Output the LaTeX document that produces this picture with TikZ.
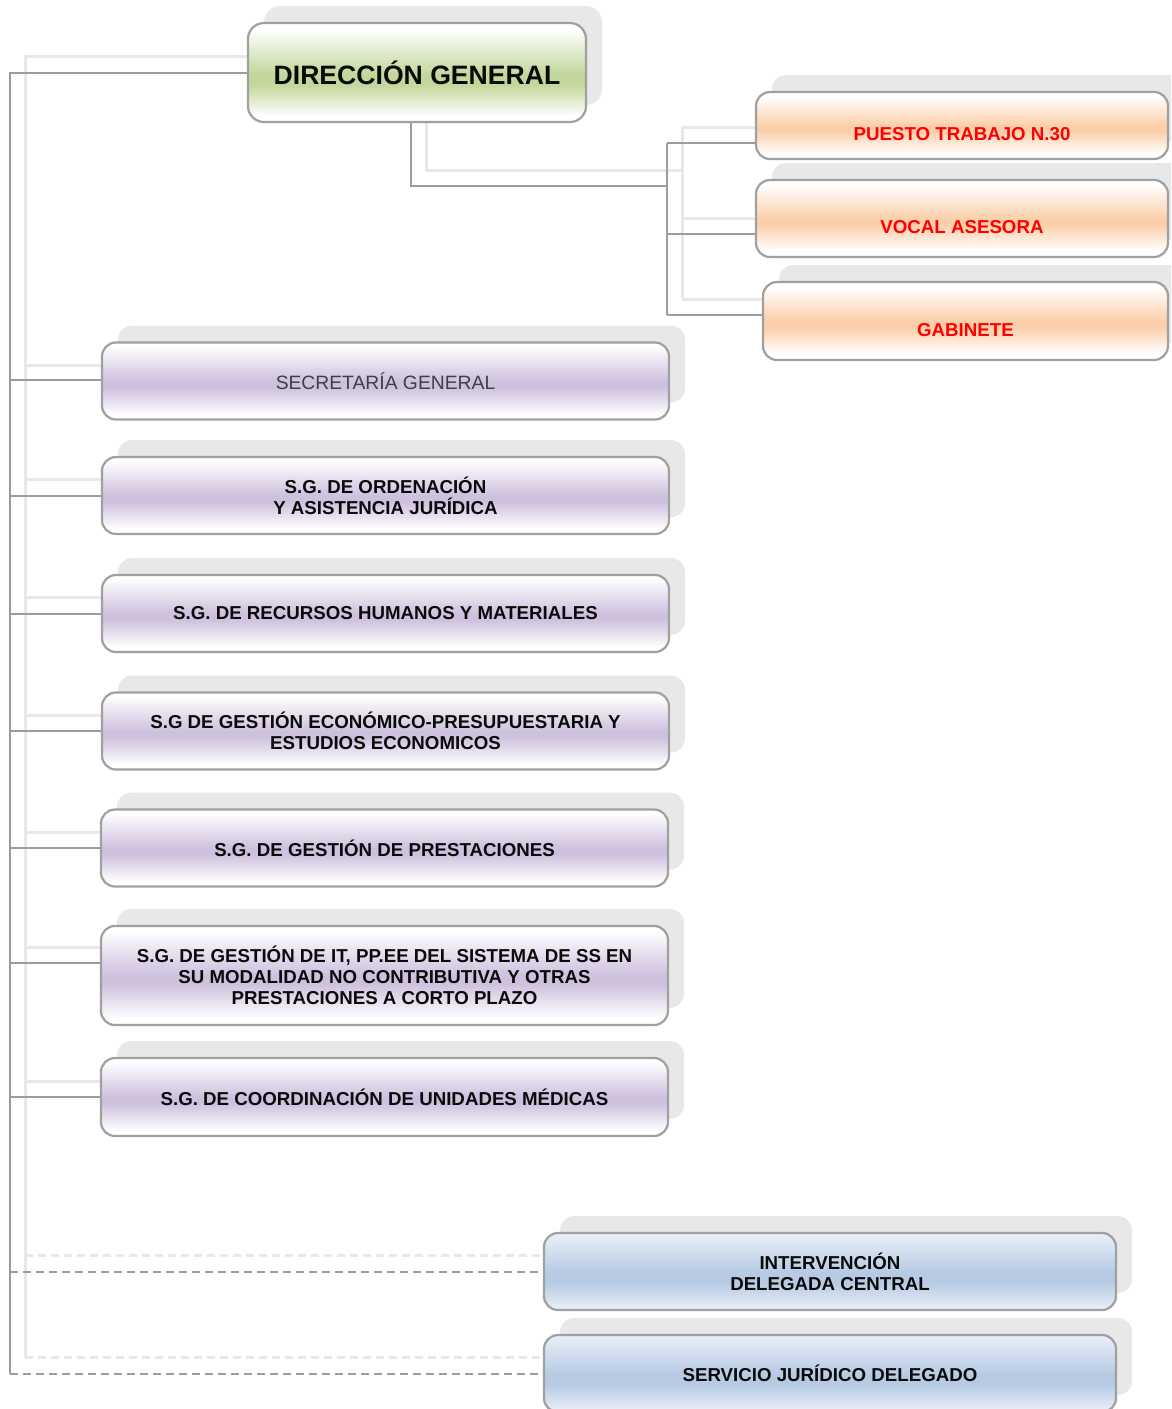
\documentclass[tikz,border=0pt]{standalone}
\usepackage{fontspec}
\setmainfont{Liberation Sans}
\usetikzlibrary{shadows,calc}
\definecolor{linec}{HTML}{9C9C9C}
\definecolor{lightc}{HTML}{E8E8E8}
\definecolor{shadc}{HTML}{E8E8E8}
\definecolor{bordc}{HTML}{A0A0A0}
\definecolor{greenc}{HTML}{C2D79B}
\definecolor{orangec}{HTML}{FBCFAA}
\definecolor{purpc}{HTML}{CEC1DE}
\definecolor{bluec}{HTML}{B6CAE3}
\definecolor{bluet}{HTML}{E6EDF7}
\definecolor{txtc}{HTML}{0A0A0A}
\definecolor{sgtxt}{HTML}{404040}
\pgfdeclareverticalshading{grsh}{100bp}{color(0bp)=(white); color(28bp)=(white); color(44bp)=(greenc); color(49bp)=(greenc); color(72bp)=(white); color(100bp)=(white)}
\pgfdeclareverticalshading{orsh}{100bp}{color(0bp)=(white); color(29bp)=(white); color(46bp)=(orangec); color(50bp)=(orangec); color(72bp)=(white); color(100bp)=(white)}
\pgfdeclareverticalshading{pusch}{100bp}{color(0bp)=(white); color(28bp)=(white); color(46bp)=(purpc); color(50bp)=(purpc); color(73bp)=(white); color(100bp)=(white)}
\pgfdeclareverticalshading{blsh}{100bp}{color(0bp)=(bluet); color(27bp)=(bluet); color(43bp)=(bluec); color(49bp)=(bluec); color(73bp)=(bluet); color(100bp)=(bluet)}
\pgfdeclarelayer{bg}
\pgfsetlayers{bg,main}
\tikzset{
  boxbase/.style={draw=bordc, line width=2.2pt, rounded corners=14pt, align=center,
    general shadow={shadow xshift=16pt, shadow yshift=17pt, fill=shadc},
    font=\fontsize{18.7}{21}\selectfont\bfseries, text=txtc},
  dgbox/.style={boxbase, shading=grsh, minimum width=338pt, minimum height=99pt,
    rounded corners=16pt, font=\fontsize{26.6}{30}\selectfont\bfseries},
  orbox/.style={boxbase, shading=orsh, text=red, text height=30pt, text depth=0pt},
  pubox/.style={boxbase, shading=pusch, minimum width=567pt, minimum height=77pt},
  blbox/.style={boxbase, shading=blsh, minimum width=572pt, minimum height=77pt},
  ln/.style={draw=linec, line width=2pt},
  lnl/.style={draw=lightc, line width=3pt},
  dsh/.style={dash pattern=on 8pt off 5pt}
}
\begin{document}
\begin{tikzpicture}[x=1pt,y=-1pt]
\useasboundingbox (0,0) rectangle (1171,1409);
\clip (0,0) rectangle (1171,1409);
% nodes
\node[dgbox] (dg) at (417,72.5) {DIRECCIÓN GENERAL};
\node[orbox, minimum width=412pt, minimum height=67pt] (pt) at (962,125.5) {PUESTO TRABAJO N.30};
\node[orbox, minimum width=412pt, minimum height=77pt] (vo) at (962,218.5) {VOCAL ASESORA};
\node[orbox, minimum width=405pt, minimum height=78pt] (gb) at (965.5,321) {GABINETE};
\node[pubox, font=\fontsize{19.3}{21}\selectfont, text=sgtxt] (sg) at (385.5,381) {SECRETARÍA GENERAL};
\node[pubox] (ord) at (385.5,495.5) {S.G. DE ORDENACIÓN\\Y ASISTENCIA JURÍDICA};
\node[pubox] (rh) at (385.5,613.5) {S.G. DE RECURSOS HUMANOS Y MATERIALES};
\node[pubox] (eco) at (385.5,731) {S.G DE GESTIÓN ECONÓMICO-PRESUPUESTARIA Y\\ESTUDIOS ECONOMICOS};
\node[pubox] (pre) at (384.5,848) {S.G. DE GESTIÓN DE PRESTACIONES};
\node[pubox, minimum height=99pt] (it) at (384.5,975.5) {S.G. DE GESTIÓN DE IT, PP.EE DEL SISTEMA DE SS EN\\SU MODALIDAD NO CONTRIBUTIVA Y OTRAS\\PRESTACIONES A CORTO PLAZO};
\node[pubox, minimum height=78pt] (um) at (384.5,1097) {S.G. DE COORDINACIÓN DE UNIDADES MÉDICAS};
\node[blbox] (int) at (830,1271.5) {INTERVENCIÓN\\DELEGADA CENTRAL};
\node[blbox] (sjd) at (830,1373.5) {SERVICIO JURÍDICO DELEGADO};
\coordinate (tr) at (10,0);
\coordinate (rb) at (667,0);
\begin{pgfonlayer}{bg}
% light (shadow) connectors
\draw[lnl] ($(dg.west)+(15,-16)$) -- ($(tr |- dg.west)+(15,-16)$) -- ($(tr |- sjd.west)+(15,-16)$);
\foreach \n in {sg,ord,rh,eco,pre,um}
  \draw[lnl] ($(tr |- \n.west)+(15,-16)$) -- ($(\n.west)+(15,-16)$);
\draw[lnl] ($(tr |- 0,963)+(15,-16)$) -- ($(it.west |- 0,963)+(15,-16)$);
\draw[lnl, dsh] ($(tr |- int.west)+(15,-16)$) -- ($(int.west)+(6,-16)$);
\draw[lnl, dsh] ($(tr |- sjd.west)+(15,-16)$) -- ($(sjd.west)+(6,-16)$);
\draw[lnl] ([xshift=9pt]dg.south) |- ($(rb |- 0,186)+(15,-16)$);
\draw[lnl] ($(rb |- 0,143)+(15,-16)$) -- ($(rb |- 0,315)+(15,-16)$);
\draw[lnl] ($(rb |- 0,143)+(15,-16)$) -- (pt.west |- 0,127);
\draw[lnl] ($(rb |- 0,234)+(15,-16)$) -- (vo.west |- 0,218);
\draw[lnl] ($(rb |- 0,315)+(15,-16)$) -- (gb.west |- 0,299);
% main connectors
\draw[ln] (dg.west) -- (tr |- dg.west) -- (tr |- sjd.west);
\foreach \n in {ord,rh,eco,pre,um}
  \draw[ln] (tr |- \n.west) -- (\n.west);
\draw[ln] (tr |- 0,379.5) -- (sg.west |- 0,379.5);
\draw[ln] (tr |- 0,963) -- (it.west |- 0,963);
\draw[ln, dsh] (tr |- int.west) -- (int.west);
\draw[ln, dsh] (tr |- sjd.west) -- (sjd.west);
\draw[ln] ([xshift=-6pt]dg.south) |- (rb |- 0,186);
\draw[ln] (rb |- 0,143) -- (rb |- 0,315);
\draw[ln] (rb |- 0,143) -- (pt.west |- 0,143);
\draw[ln] (rb |- 0,234) -- (vo.west |- 0,234);
\draw[ln] (rb |- 0,315) -- (gb.west |- 0,315);
\end{pgfonlayer}
\end{tikzpicture}
\end{document}
